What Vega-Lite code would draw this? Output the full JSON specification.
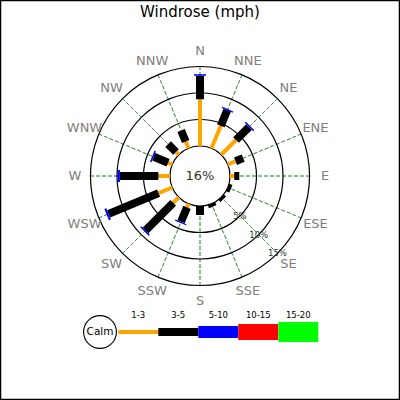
{
  "$schema": "https://vega.github.io/schema/vega-lite/v6.json",
  "width": 400,
  "height": 400,
  "autosize": "none",
  "padding": 0,
  "background": "white",
  "title": {"text": "Windrose (mph)", "font": "DejaVu Sans", "fontSize": 15, "fontWeight": "normal", "color": "black", "anchor": "middle", "frame": "group", "offset": 0, "dy": 32, "baseline": "alphabetic"},
  "config": {"view": {"stroke": "black", "strokeWidth": 2.5}, "text": {"font": "DejaVu Sans"}},
  "datasets": {
    "dirs": [{"dir": "N"}, {"dir": "NNE"}, {"dir": "NE"}, {"dir": "ENE"}, {"dir": "E"}, {"dir": "ESE"}, {"dir": "SE"}, {"dir": "SSE"}, {"dir": "S"}, {"dir": "SSW"}, {"dir": "SW"}, {"dir": "WSW"}, {"dir": "W"}, {"dir": "WNW"}, {"dir": "NW"}, {"dir": "NNW"}],
    "rings": [{"pct": 5, "label": "5%"}, {"pct": 10, "label": "10%"}, {"pct": 15, "label": "15%"}],
    "calm": [{"share": 0.16, "name": "Calm"}],
    "segs": [{"seg": "1-3", "lo": 1}, {"seg": "3-5", "lo": 3}, {"seg": "5-10", "lo": 5}, {"seg": "10-15", "lo": 10}, {"seg": "15-20", "lo": 15}],
    "bars": [
      {"dir": "N", "seg": "1-3", "r0": 0, "r1": 8.8}, {"dir": "N", "seg": "3-5", "r0": 8.8, "r1": 13.25}, {"dir": "N", "seg": "5-10", "r0": 13.25, "r1": 13.55},
      {"dir": "NNE", "seg": "1-3", "r0": 0, "r1": 4.6}, {"dir": "NNE", "seg": "3-5", "r0": 4.6, "r1": 7.75}, {"dir": "NNE", "seg": "5-10", "r0": 7.75, "r1": 8.0},
      {"dir": "NE", "seg": "1-3", "r0": 0, "r1": 3.95}, {"dir": "NE", "seg": "3-5", "r0": 3.95, "r1": 7.4}, {"dir": "NE", "seg": "5-10", "r0": 7.4, "r1": 7.7},
      {"dir": "ENE", "seg": "1-3", "r0": 0, "r1": 1.6}, {"dir": "ENE", "seg": "3-5", "r0": 1.6, "r1": 3.15},
      {"dir": "E", "seg": "1-3", "r0": 0, "r1": 0.8}, {"dir": "E", "seg": "3-5", "r0": 0.8, "r1": 1.75},
      {"dir": "ESE", "seg": "3-5", "r0": 0, "r1": 0.65},
      {"dir": "SE", "seg": "3-5", "r0": 0, "r1": 0.55},
      {"dir": "SSE", "seg": "3-5", "r0": 0, "r1": 0.6},
      {"dir": "S", "seg": "3-5", "r0": 0, "r1": 1.7},
      {"dir": "SSW", "seg": "1-3", "r0": 0, "r1": 0.75}, {"dir": "SSW", "seg": "3-5", "r0": 0.75, "r1": 3.7}, {"dir": "SSW", "seg": "5-10", "r0": 3.7, "r1": 3.95},
      {"dir": "SW", "seg": "1-3", "r0": 0, "r1": 1.5}, {"dir": "SW", "seg": "3-5", "r0": 1.5, "r1": 8.85}, {"dir": "SW", "seg": "5-10", "r0": 8.85, "r1": 9.15},
      {"dir": "WSW", "seg": "1-3", "r0": 0, "r1": 2.8}, {"dir": "WSW", "seg": "3-5", "r0": 2.8, "r1": 13.0}, {"dir": "WSW", "seg": "5-10", "r0": 13.0, "r1": 13.4},
      {"dir": "W", "seg": "1-3", "r0": 0, "r1": 2.2}, {"dir": "W", "seg": "3-5", "r0": 2.2, "r1": 9.45}, {"dir": "W", "seg": "5-10", "r0": 9.45, "r1": 9.9},
      {"dir": "WNW", "seg": "1-3", "r0": 0, "r1": 0.85}, {"dir": "WNW", "seg": "3-5", "r0": 0.85, "r1": 3.8}, {"dir": "WNW", "seg": "5-10", "r0": 3.8, "r1": 4.1},
      {"dir": "NW", "seg": "1-3", "r0": 0, "r1": 0.75}, {"dir": "NW", "seg": "3-5", "r0": 0.75, "r1": 2.85},
      {"dir": "NNW", "seg": "1-3", "r0": 0, "r1": 1.4}, {"dir": "NNW", "seg": "3-5", "r0": 1.4, "r1": 3.65}
    ]
  },
  "layer": [
    {
      "data": {"name": "dirs"},
      "mark": {"type": "arc", "filled": false, "stroke": "#2e8b2e", "strokeWidth": 0.9, "strokeDash": [4, 2], "strokeDashOffset": 0.5, "strokeJoin": "bevel", "opacity": 0.75},
      "encoding": {
        "theta": {"field": "dir", "type": "nominal", "scale": {"type": "point", "domain": ["N", "NNE", "NE", "ENE", "E", "ESE", "SE", "SSE", "S", "SSW", "SW", "WSW", "W", "WNW", "NW", "NNW"], "range": [0, 5.890486], "padding": 0}},
        "theta2": {"field": "dir"},
        "radius": {"datum": 15, "type": "quantitative", "stack": null, "scale": {"type": "linear", "domain": [0, 15], "range": [30, 109.5], "zero": false, "nice": false}},
        "radius2": {"datum": 0},
        "y": {"value": 176}
      }
    },
    {
      "data": {"name": "rings"},
      "mark": {"type": "arc", "filled": false, "stroke": "black", "strokeWidth": 1.2},
      "encoding": {
        "theta": {"value": 0},
        "theta2": {"value": 6.2832},
        "radius": {"field": "pct", "type": "quantitative", "stack": null, "scale": {"type": "linear", "domain": [0, 15], "range": [30, 109.5], "zero": false, "nice": false}},
        "radius2": {"value": 0},
        "y": {"value": 176}
      }
    },
    {
      "data": {"name": "calm"},
      "mark": {"type": "arc", "fill": "white", "stroke": "black", "strokeWidth": 1.2},
      "encoding": {
        "theta": {"value": 0},
        "theta2": {"value": 6.2832},
        "radius": {"datum": 0, "type": "quantitative", "stack": null, "scale": {"type": "linear", "domain": [0, 15], "range": [30, 109.5], "zero": false, "nice": false}},
        "radius2": {"value": 0},
        "y": {"value": 176}
      }
    },
    {
      "data": {"name": "bars"},
      "mark": {"type": "arc", "filled": false, "strokeJoin": "bevel", "strokeCap": "butt"},
      "encoding": {
        "theta": {"field": "dir", "type": "nominal", "scale": {"type": "point", "domain": ["N", "NNE", "NE", "ENE", "E", "ESE", "SE", "SSE", "S", "SSW", "SW", "WSW", "W", "WNW", "NW", "NNW"], "range": [0, 5.890486], "padding": 0}},
        "theta2": {"field": "dir"},
        "radius": {"field": "r1", "type": "quantitative", "stack": null, "scale": {"type": "linear", "domain": [0, 15], "range": [30, 109.5], "zero": false, "nice": false}},
        "radius2": {"field": "r0"},
        "stroke": {"field": "seg", "type": "nominal", "scale": {"domain": ["1-3", "3-5", "5-10", "10-15", "15-20"], "range": ["#FFA500", "#000000", "#0000FF", "#FF0000", "#00FF00"]}, "legend": null},
        "strokeWidth": {"field": "seg", "type": "ordinal", "scale": {"type": "point", "domain": ["1-3", "3-5", "5-10", "10-15", "15-20"], "range": [4, 20], "padding": 0}, "legend": null},
        "y": {"value": 176}
      }
    },
    {
      "data": {"name": "rings"},
      "mark": {"type": "text", "fontSize": 8.5, "color": "#333333", "align": "center", "baseline": "middle"},
      "encoding": {
        "theta": {"datum": "SE", "type": "nominal", "scale": {"type": "point", "domain": ["N", "NNE", "NE", "ENE", "E", "ESE", "SE", "SSE", "S", "SSW", "SW", "WSW", "W", "WNW", "NW", "NNW"], "range": [0, 5.890486], "padding": 0}},
        "radius": {"field": "pct", "type": "quantitative", "stack": null, "scale": {"type": "linear", "domain": [0, 15], "range": [30, 109.5], "zero": false, "nice": false}},
        "text": {"field": "label"},
        "y": {"value": 176}
      }
    },
    {
      "data": {"name": "dirs"},
      "mark": {"type": "text", "fontSize": 13, "color": "#808080", "align": "center", "baseline": "middle", "radiusOffset": 15.5},
      "encoding": {
        "theta": {"field": "dir", "type": "nominal", "scale": {"type": "point", "domain": ["N", "NNE", "NE", "ENE", "E", "ESE", "SE", "SSE", "S", "SSW", "SW", "WSW", "W", "WNW", "NW", "NNW"], "range": [0, 5.890486], "padding": 0}},
        "radius": {"datum": 15, "type": "quantitative", "stack": null, "scale": {"type": "linear", "domain": [0, 15], "range": [30, 109.5], "zero": false, "nice": false}},
        "text": {"field": "dir"},
        "y": {"value": 176}
      }
    },
    {
      "data": {"name": "calm"},
      "mark": {"type": "text", "fontSize": 13, "color": "#333333", "align": "center", "baseline": "middle"},
      "encoding": {
        "text": {"field": "share", "type": "quantitative", "format": ".0%"},
        "y": {"value": 176}
      }
    },
    {
      "data": {"name": "segs"},
      "mark": {"type": "bar", "orient": "horizontal"},
      "encoding": {
        "x": {"aggregate": "count", "type": "quantitative", "stack": "zero", "scale": {"domain": [-2.9575, 7.0425], "nice": false, "zero": false}, "axis": null},
        "order": {"field": "lo", "type": "quantitative"},
        "color": {"field": "seg", "type": "nominal", "scale": {"domain": ["1-3", "3-5", "5-10", "10-15", "15-20"], "range": ["#FFA500", "#000000", "#0000FF", "#FF0000", "#00FF00"]}, "legend": null},
        "size": {"field": "seg", "type": "ordinal", "scale": {"type": "point", "domain": ["1-3", "3-5", "5-10", "10-15", "15-20"], "range": [4, 20], "padding": 0}, "legend": null},
        "y": {"value": 332}
      }
    },
    {
      "data": {"name": "segs"},
      "mark": {"type": "text", "fontSize": 8.5, "color": "black", "dx": -20, "align": "center", "baseline": "alphabetic"},
      "encoding": {
        "x": {"aggregate": "count", "type": "quantitative", "stack": "zero", "scale": {"domain": [-2.9575, 7.0425], "nice": false, "zero": false}, "axis": null},
        "order": {"field": "lo", "type": "quantitative"},
        "detail": {"field": "seg", "type": "nominal"},
        "text": {"field": "seg"},
        "y": {"value": 318}
      }
    },
    {
      "data": {"name": "calm"},
      "mark": {"type": "point", "shape": "circle", "filled": true, "fill": "white", "stroke": "black", "strokeWidth": 1.1, "size": 1075, "opacity": 1},
      "encoding": {
        "x": {"datum": -0.4575, "type": "quantitative", "scale": {"domain": [-2.9575, 7.0425], "nice": false, "zero": false}, "axis": null},
        "y": {"value": 332}
      }
    },
    {
      "data": {"name": "calm"},
      "mark": {"type": "text", "fontSize": 10.5, "color": "black", "align": "center", "baseline": "middle"},
      "encoding": {
        "x": {"datum": -0.4575, "type": "quantitative", "scale": {"domain": [-2.9575, 7.0425], "nice": false, "zero": false}, "axis": null},
        "text": {"field": "name"},
        "y": {"value": 332}
      }
    }
  ]
}
